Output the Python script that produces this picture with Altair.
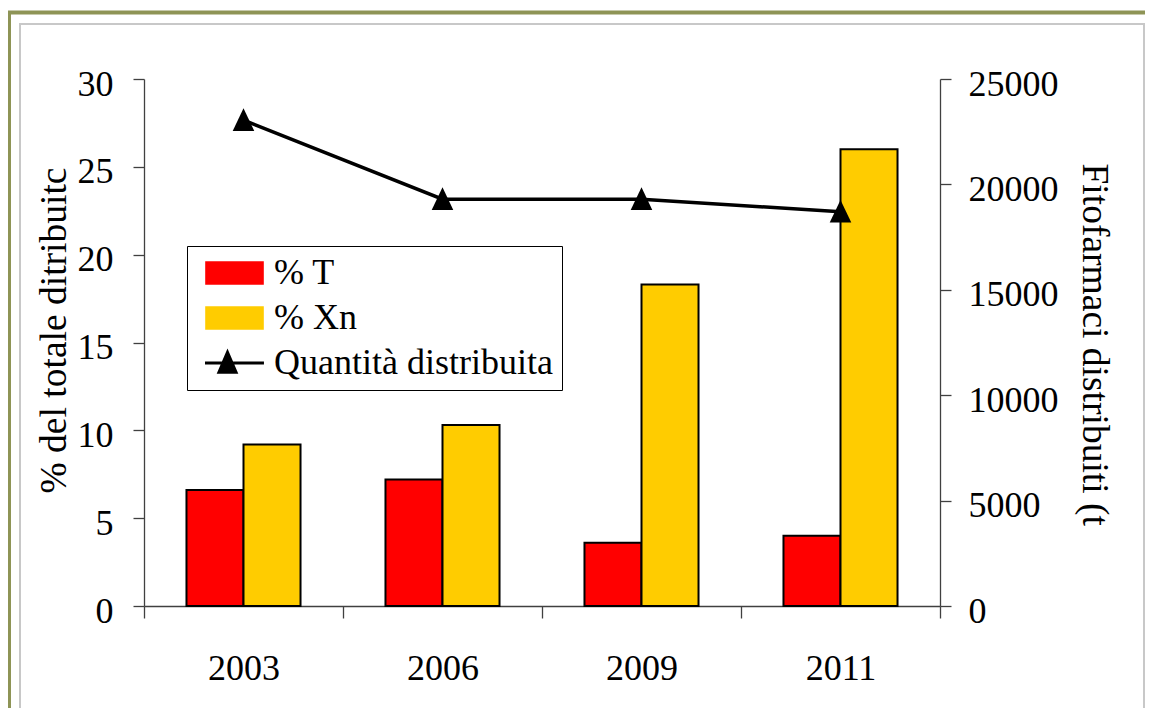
import altair as alt
import pandas as pd

years = ["2003", "2006", "2009", "2011"]
pct_T = [6.6, 7.2, 3.6, 4.0]
pct_Xn = [9.2, 10.3, 18.3, 26.0]
quantita = [23050, 19300, 19300, 18700]
series = ["% T", "% Xn", "Quantità distribuita"]
colors = ["#FF0000", "#FFCC00", "#000000"]
left_ticks = [0, 5, 10, 15, 20, 25, 30]
right_ticks = [0, 5000, 10000, 15000, 20000, 25000]
left_title = "% del totale ditribuitc"
right_title = "Fitofarmaci distribuiti (t"

FONT = "'Liberation Serif', 'Times New Roman', 'DejaVu Serif', serif"
FS = 36
TFS = 37.5
AXIS_COLOR = "#404040"

bars_df = pd.DataFrame({
    "anno": years + years,
    "serie": [series[0]] * len(years) + [series[1]] * len(years),
    "valore": pct_T + pct_Xn,
})
line_df = pd.DataFrame({"anno": years, "quantita": quantita, "serie": [series[2]] * len(years)})

color_scale = alt.Scale(domain=series, range=colors)

rect_path = "M-0.533,-0.733H3.267V0.733H-0.533Z"
line_path = "M-0.6,0H3.33M0.9,-0.71L1.47,0.62L0.33,0.62Z"

legend = alt.Legend(
    title=None,
    orient="none",
    legendX=43,
    legendY=167,
    direction="vertical",
    symbolSize=900,
    symbolType={"expr": f"datum.index === 2 ? '{line_path}' : '{rect_path}'"},
    symbolStrokeWidth={"expr": "datum.index === 2 ? 3 : 1.6"},
    symbolStrokeColor="black",
    symbolOpacity=1,
    labelFont=FONT,
    labelFontSize=FS,
    labelColor="black",
    labelLimit=500,
    labelOffset=42,
    padding=9,
    rowPadding=9,
    strokeColor="black",
    fillColor="white",
)

x_axis = alt.Axis(
    title=None,
    labelAngle=0,
    tickBand="extent",
    tickSize=12,
    labelPadding=33,
    labelFont=FONT,
    labelFontSize=FS,
    labelColor="black",
    domainColor=AXIS_COLOR,
    tickColor=AXIS_COLOR,
    domainWidth=1.3,
    tickWidth=1.3,
)

x_enc = alt.X("anno:N", sort=years, axis=x_axis,
              scale=alt.Scale(paddingInner=0, paddingOuter=0))

bars = alt.Chart(bars_df).mark_bar(stroke="black", strokeWidth=2, opacity=1).encode(
    x=x_enc,
    xOffset=alt.XOffset("serie:N", sort=series[:2], scale=alt.Scale(paddingOuter=0.745)),
    y=alt.Y("valore:Q", scale=alt.Scale(domain=[0, 30], nice=False),
            axis=alt.Axis(title=left_title, values=left_ticks, orient="left", grid=False,
                          tickSize=11, labelPadding=20, labelOffset=5,
                          labelFont=FONT, labelFontSize=FS, labelColor="black",
                          domainColor=AXIS_COLOR, tickColor=AXIS_COLOR,
                          domainWidth=1.3, tickWidth=1.3,
                          titleFont=FONT, titleFontSize=TFS, titleFontWeight="normal",
                          titleColor="black", titleAngle=270, titleAlign="left",
                          titleLimit=600,
                          titleBaseline="alphabetic", titleX=-79, titleY=414)),
    color=alt.Color("serie:N", scale=color_scale, legend=legend),
)

line = alt.Chart(line_df).mark_line(
    strokeWidth=3.5,
    point=alt.OverlayMarkDef(shape="M0,-1.1L1,1L-1,1Z", size=466, filled=True, opacity=1),
).encode(
    x=x_enc,
    y=alt.Y("quantita:Q", scale=alt.Scale(domain=[0, 25000], nice=False),
            axis=alt.Axis(title=right_title, values=right_ticks, orient="right", grid=False,
                          format="d",
                          tickSize=11, labelPadding=17, labelOffset=5,
                          labelFont=FONT, labelFontSize=FS, labelColor="black",
                          domainColor=AXIS_COLOR, tickColor=AXIS_COLOR,
                          domainWidth=1.3, tickWidth=1.3,
                          titleFont=FONT, titleFontSize=TFS, titleFontWeight="normal",
                          titleColor="black", titleAngle=90, titleAlign="left",
                          titleLimit=600,
                          titleBaseline="alphabetic", titleX=142, titleY=84)),
    color=alt.Color("serie:N", scale=color_scale, legend=legend),
)

frame_df = pd.DataFrame({"k": [0]})
outer = alt.Chart(frame_df).mark_rect(fillOpacity=0, stroke="#8E9456", strokeWidth=4).encode(
    x=alt.value(-135), x2=alt.value(1100), y=alt.value(-66.5), y2=alt.value(700)
)
inner = alt.Chart(frame_df).mark_rect(fillOpacity=0, stroke="#C8C8C8", strokeWidth=2).encode(
    x=alt.value(-124), x2=alt.value(1000), y=alt.value(-55), y2=alt.value(642)
)

chart = alt.layer(outer, inner, bars, line).resolve_scale(y="independent").properties(
    width=796,
    height=527,
    autosize=alt.AutoSizeParams(type="none"),
    padding={"left": 136, "top": 71, "right": 205, "bottom": 102},
    background="white",
).configure_view(strokeWidth=0)

chart.save("out.html", embed_options={"renderer": "svg", "actions": False})
